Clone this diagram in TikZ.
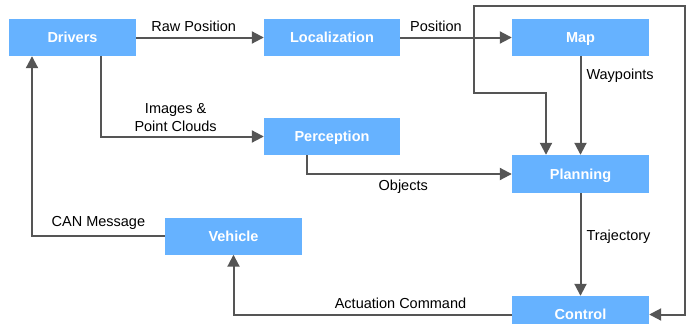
\documentclass[tikz,border=0pt]{standalone}
\usepackage{fontspec}
\setmainfont{Liberation Sans}
\usetikzlibrary{arrows.meta}
\usetikzlibrary{calc}
\usetikzlibrary{positioning}
\definecolor{boxblue}{HTML}{66B2FF}
\definecolor{wire}{HTML}{555555}

\begin{document}
\begin{tikzpicture}[x=1pt, y=-1pt, auto, >={Triangle[length=12pt,width=12pt]}]
    \fontsize{14.5}{18}\selectfont

    \tikzstyle{blk} = [rectangle, fill=boxblue, text=white, font=\bfseries, minimum width=136pt, minimum height=37pt, inner sep=0pt, text height=10.4pt, text depth=0pt]
    \tikzstyle{lab} = [rectangle, inner sep=5pt, text=black]
    \tikzstyle{connector} = [->, draw=wire, line width=2pt]

    \useasboundingbox (0,0) rectangle (699,324);

    % Module boxes %%%%%%%%%%%%%%%%%%%%%%%%%%%%%%%%%%%%%%%%%%%%%%%%%%%%%%%%%%%%%%%%%%%%%%%%
    \node[blk, minimum width=127pt] (drivers) at (72.5,37.5)  {Drivers};
    \node[blk] (localization)             at (332,37.5)   {Localization};
    \node[blk, minimum width=137pt] (map) at (580.5,37.5) {Map};
    \node[blk] (perception)               at (332,136.5)  {Perception};
    \node[blk, minimum width=137pt, minimum height=38pt] (planning) at (580.5,174) {Planning};
    \node[blk, minimum width=137pt] (vehicle) at (233.5,236) {Vehicle};
    \node[blk, minimum width=137pt] (control) at (580.5,314.5) {Control};

    % Connection points off the box centres
    \coordinate (drvout)  at ($(drivers.south) + ( 28,0)$);
    \coordinate (drvin)   at ($(drivers.south) + (-40.5,0)$);
    \coordinate (percout) at ($(perception.south) + (-25,0)$);
    \coordinate (planin)  at ($(planning.north) + (-34.5,0)$);
    \coordinate (loopNE)  at (685,6);
    \coordinate (loopNW)  at (474,6);
    \coordinate (loopSW)  at (474,93);

    % Now link the nodes %%%%%%%%%%%%%%%%%%%%%%%%%%%%%%%%%%%%%%%%%%%%%%%%%%%%%%%%%%%%%%%%%%
    \draw [connector] (drivers) -- (localization) node[lab, pos=0.45, above] {Raw Position};
    \draw [connector] (localization) -- (map) node[lab, pos=0.32, above] {Position};
    \draw [connector] (drvout) |- (perception.west) node[lab, pos=0.73, above, align=center, inner sep=4pt] {Images \&\\Point Clouds};
    \draw [connector] (vehicle.west) -| (drvin) node[lab, pos=0.25, above] {CAN Message};
    \draw [connector] (percout) |- (planning.west) node[lab, pos=0.735, below] {Objects};
    \draw [connector] (map) -- (planning) node[lab, pos=0.2, right] {Waypoints};
    \draw [connector] (planning) -- (control) node[lab, pos=0.42, right] {Trajectory};
    \draw [connector] (control.west) -| (vehicle.south) node[lab, pos=0.2, above] {Actuation Command};
    \draw [connector, <->] (control.east) -| (loopNE) -- (loopNW) -- (loopSW) -| (planin);

\end{tikzpicture}
\end{document}
